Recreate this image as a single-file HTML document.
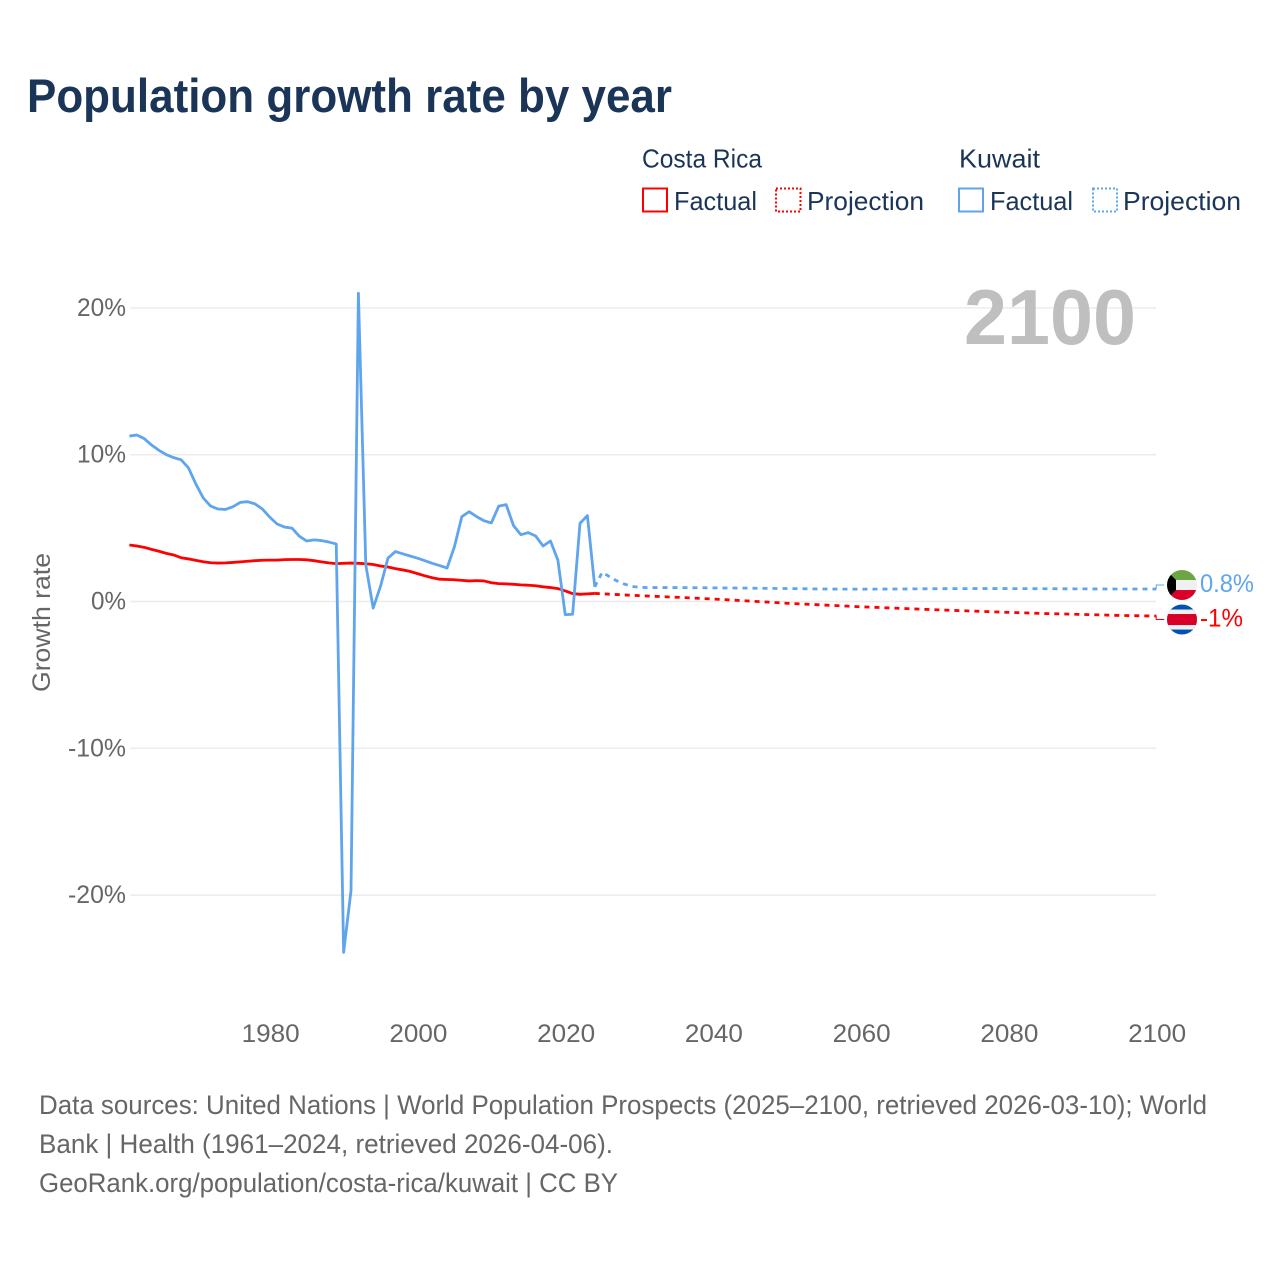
<!DOCTYPE html>
<html lang="en">
<head>
<meta charset="utf-8">
<title>Population growth rate by year</title>
<style>
html,body{margin:0;padding:0;background:#fff;}
svg{display:block;font-family:"Liberation Sans",Arial,sans-serif;}
</style>
</head>
<body>
<svg id="chart" xmlns="http://www.w3.org/2000/svg" width="1280" height="1280" viewBox="0 0 1280 1280">
  <defs>
    <clipPath id="clip-kw"><circle id="clip-kw-c" cx="0" cy="0" r="15"/></clipPath>
    <clipPath id="clip-cr"><circle id="clip-cr-c" cx="0" cy="0" r="15"/></clipPath>
  </defs>
  <rect width="1280" height="1280" fill="#fff"/>
  <text x="27" y="112" font-size="47" font-weight="700" fill="#1a3557" textLength="645" lengthAdjust="spacingAndGlyphs">Population growth rate by year</text>

  <g font-size="26" fill="#1a3557">
    <text x="642" y="167.500" textLength="120" lengthAdjust="spacingAndGlyphs">Costa Rica</text>
    <rect x="643" y="188.500" width="24" height="23" fill="none" stroke="#ff0000" stroke-width="2"/>
    <text x="674" y="210" textLength="83" lengthAdjust="spacingAndGlyphs">Factual</text>
    <rect x="776" y="188.500" width="24.500" height="23" fill="none" stroke="#ff0000" stroke-width="2" stroke-dasharray="2 2"/>
    <text x="807" y="210" textLength="117" lengthAdjust="spacingAndGlyphs">Projection</text>
    <text x="959" y="167.500" textLength="81" lengthAdjust="spacingAndGlyphs">Kuwait</text>
    <rect x="959" y="188.500" width="24" height="23" fill="none" stroke="#5fa5ee" stroke-width="2"/>
    <text x="990" y="210" textLength="83" lengthAdjust="spacingAndGlyphs">Factual</text>
    <rect x="1093" y="188.500" width="24" height="23" fill="none" stroke="#5fa5ee" stroke-width="2" stroke-dasharray="2 2"/>
    <text x="1123" y="210" textLength="118" lengthAdjust="spacingAndGlyphs">Projection</text>
  </g>

  <g id="grid"></g>
  <text x="964" y="344" font-size="78" font-weight="700" fill="#bfbfbf" textLength="172" lengthAdjust="spacingAndGlyphs">2100</text>
  <g id="yticks"></g>
  <g id="xticks"></g>
  <text transform="translate(50,692) rotate(-90)" font-size="25" fill="#666666" textLength="139" lengthAdjust="spacingAndGlyphs">Growth rate</text>
  <g id="series"></g>
  <g id="ends"></g>

  <g font-size="27" fill="#666666">
    <text x="39" y="1114" textLength="1168" lengthAdjust="spacingAndGlyphs">Data sources: United Nations | World Population Prospects (2025–2100, retrieved 2026-03-10); World</text>
    <text x="39" y="1153" textLength="574" lengthAdjust="spacingAndGlyphs">Bank | Health (1961–2024, retrieved 2026-04-06).</text>
    <text x="39" y="1192" textLength="579" lengthAdjust="spacingAndGlyphs">GeoRank.org/population/costa-rica/kuwait | CC BY</text>
  </g>
</svg>
<script>
const factualYears = [1961,1962,1963,1964,1965,1966,1967,1968,1969,1970,1971,1972,1973,1974,1975,1976,1977,1978,1979,1980,1981,1982,1983,1984,1985,1986,1987,1988,1989,1990,1991,1992,1993,1994,1995,1996,1997,1998,1999,2000,2001,2002,2003,2004,2005,2006,2007,2008,2009,2010,2011,2012,2013,2014,2015,2016,2017,2018,2019,2020,2021,2022,2023,2024];
const kuwaitFactual = [11.27,11.34,11.1,10.66,10.3,10.0,9.8,9.65,9.1,8.0,7.05,6.5,6.3,6.27,6.45,6.75,6.8,6.65,6.3,5.75,5.28,5.07,5.0,4.45,4.12,4.2,4.15,4.05,3.92,-23.9,-19.7,21.0,2.5,-0.45,1.05,2.95,3.4,3.25,3.1,2.95,2.78,2.6,2.45,2.28,3.73,5.78,6.12,5.78,5.5,5.35,6.5,6.6,5.17,4.55,4.69,4.46,3.78,4.12,2.83,-0.9,-0.87,5.33,5.85,1.0];
const costaRicaFactual = [3.85,3.78,3.69,3.55,3.42,3.28,3.17,2.98,2.9,2.8,2.71,2.64,2.62,2.63,2.66,2.7,2.74,2.78,2.81,2.82,2.82,2.85,2.86,2.86,2.84,2.78,2.7,2.63,2.58,2.6,2.62,2.6,2.57,2.52,2.42,2.35,2.24,2.15,2.05,1.9,1.75,1.62,1.52,1.5,1.48,1.44,1.4,1.42,1.4,1.28,1.22,1.2,1.17,1.13,1.11,1.07,1.0,0.95,0.88,0.72,0.54,0.49,0.52,0.55];
const kuwaitProjectionYears = [2024,2025,2026,2027,2028,2029,2030,2031,2035,2040,2045,2050,2055,2060,2065,2070,2075,2080,2085,2090,2095,2100];
const kuwaitProjection = [1.0,1.99,1.69,1.4,1.19,1.03,0.97,0.95,0.95,0.93,0.91,0.88,0.85,0.84,0.85,0.87,0.88,0.88,0.87,0.86,0.85,0.85];
const costaRicaProjectionYears = [2024,2030,2035,2040,2045,2050,2055,2060,2065,2070,2075,2080,2085,2090,2095,2100];
const costaRicaProjection = [0.55,0.4,0.29,0.17,0.03,-0.12,-0.24,-0.36,-0.46,-0.56,-0.65,-0.74,-0.82,-0.88,-0.95,-0.99];
const xTickYears = [1980,2000,2020,2040,2060,2080,2100];
const yTickValues = [20,10,0,-10,-20];
const yTickLabels = ["20%","10%","0%","-10%","-20%"];
const endLabels = ["0.8%","-1%"];

const NS = "http://www.w3.org/2000/svg";
function xScale(year){ return 129.4 + (year - 1961) * (1156.2 - 129.4) / (2100 - 1961); }
function yScale(v){ return 601.5 - v * 14.68; }
function make(tag, attrs, parent){
  const e = document.createElementNS(NS, tag);
  for (const k in attrs) e.setAttribute(k, attrs[k]);
  parent.appendChild(e);
  return e;
}
function pathFor(years, values){
  return values.map(function(v, i){
    return (i ? "L" : "M") + xScale(years[i]).toFixed(2) + " " + yScale(v).toFixed(2);
  }).join(" ");
}

const grid = document.getElementById("grid");
const yticks = document.getElementById("yticks");
const xticks = document.getElementById("xticks");
const series = document.getElementById("series");
const ends = document.getElementById("ends");

yTickValues.forEach(function(v, i){
  const line = make("line", {x1:130, x2:1156, y1:yScale(v), y2:yScale(v), stroke:"#ececec", "stroke-width":1.5}, grid);
  
  
  const widths = yTickLabels[i].length === 2 ? 35 : (yTickLabels[i].length === 3 ? 49 : 58);
  const t = make("text", {x:126, y:yScale(v)+8, "text-anchor":"end", "font-size":25, fill:"#666666", textLength:widths, lengthAdjust:"spacingAndGlyphs"}, yticks);
  
  
  t.textContent = yTickLabels[i];
});

xTickYears.forEach(function(year){
  const t = make("text", {x:xScale(year)+0.9, y:1042, "text-anchor":"middle", "font-size":25, fill:"#666666", textLength:58, lengthAdjust:"spacingAndGlyphs"}, xticks);
  
  
  t.textContent = String(year);
});

const crLine = make("path", {d:pathFor(factualYears, costaRicaFactual), fill:"none", stroke:"#ff0000", "stroke-width":2.8, "stroke-linejoin":"round"}, series);


const crProj = make("path", {d:pathFor(costaRicaProjectionYears, costaRicaProjection), fill:"none", stroke:"#ff0000", "stroke-width":2.8, "stroke-dasharray":"5 5"}, series);


const kwLine = make("path", {d:pathFor(factualYears, kuwaitFactual), fill:"none", stroke:"#5fa5ee", "stroke-width":2.8, "stroke-linejoin":"round"}, series);


const kwProj = make("path", {d:pathFor(kuwaitProjectionYears, kuwaitProjection), fill:"none", stroke:"#5fa5ee", "stroke-width":2.8, "stroke-dasharray":"5 5"}, series);



/* end markers follow the last value of each series */
const endX = xScale(2100);
const flagX = 1182;
const kwEnd = yScale(kuwaitProjection[kuwaitProjection.length - 1]);
const crEnd = yScale(costaRicaProjection[costaRicaProjection.length - 1]);
const kwFlagY = kwEnd - 4;
const crFlagY = crEnd + 3.5;

const kwLead = make("path", {d:"M"+(endX-2)+" "+kwEnd+" L"+endX+" "+kwEnd+" L"+endX+" "+kwFlagY+" L"+(endX+8)+" "+kwFlagY, fill:"none", stroke:"#5fa5ee", "stroke-width":1}, ends);


const crLead = make("path", {d:"M"+(endX-2)+" "+crEnd+" L"+endX+" "+crEnd+" L"+endX+" "+crFlagY+" L"+(endX+8)+" "+crFlagY, fill:"none", stroke:"#ff0000", "stroke-width":1}, ends);



document.getElementById("clip-kw-c").setAttribute("cx", flagX);
document.getElementById("clip-kw-c").setAttribute("cy", kwFlagY);
document.getElementById("clip-cr-c").setAttribute("cx", flagX);
document.getElementById("clip-cr-c").setAttribute("cy", crFlagY);

const kwFlag = make("g", {"clip-path":"url(#clip-kw)"}, ends);


make("rect", {x:flagX-15, y:kwFlagY-15, width:30, height:10, fill:"#6da544"}, kwFlag);
make("rect", {x:flagX-15, y:kwFlagY-5, width:30, height:10, fill:"#f0f0f0"}, kwFlag);
make("rect", {x:flagX-15, y:kwFlagY+5, width:30, height:10, fill:"#d80027"}, kwFlag);
make("path", {d:"M"+(flagX-16)+" "+(kwFlagY-15)+" L"+(flagX-6)+" "+(kwFlagY-5)+" V"+(kwFlagY+5)+" L"+(flagX-16)+" "+(kwFlagY+15)+" Z", fill:"#000"}, kwFlag);

const crFlag = make("g", {"clip-path":"url(#clip-cr)"}, ends);


make("rect", {x:flagX-15, y:crFlagY-15, width:30, height:30, fill:"#0052b4"}, crFlag);
make("rect", {x:flagX-15, y:crFlagY-10, width:30, height:20, fill:"#f0f0f0"}, crFlag);
make("rect", {x:flagX-15, y:crFlagY-5.5, width:30, height:11, fill:"#d80027"}, crFlag);

const kwLabel = make("text", {x:1200, y:kwFlagY+7, "font-size":25, fill:"#5fa5ee", textLength:54, lengthAdjust:"spacingAndGlyphs"}, ends);


kwLabel.textContent = endLabels[0];
const crLabel = make("text", {x:1200, y:crFlagY+7, "font-size":25, fill:"#ff0000", textLength:43, lengthAdjust:"spacingAndGlyphs"}, ends);


crLabel.textContent = endLabels[1];
</script>
</body>
</html>
